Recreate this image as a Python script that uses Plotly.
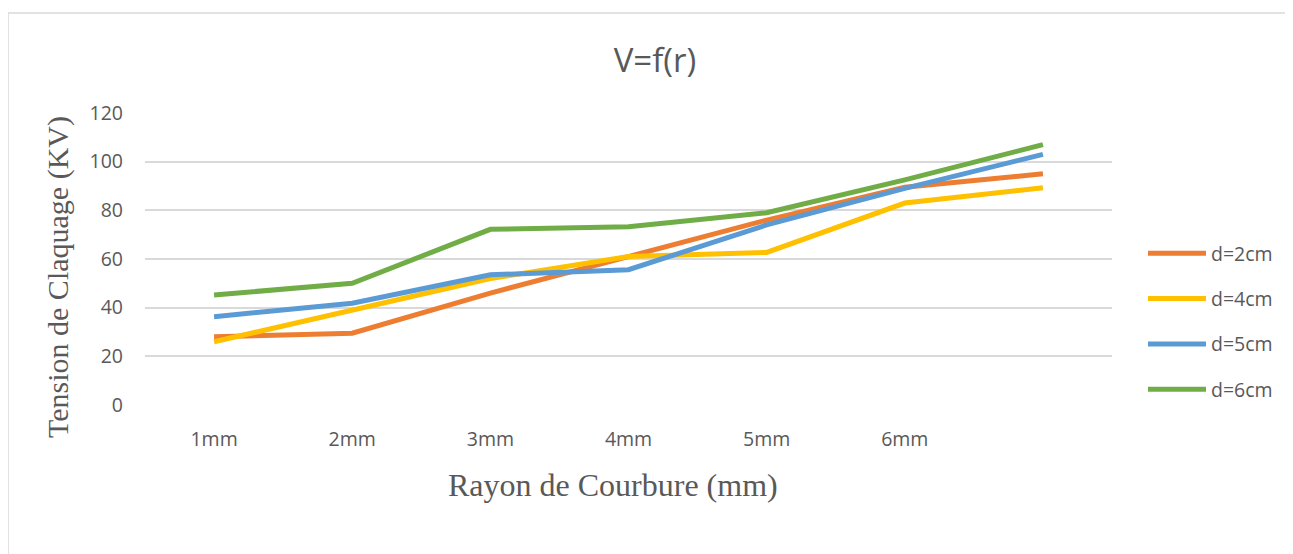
import plotly.graph_objects as go

# ---- data ----
x_pos = [1, 2, 3, 4, 5, 6, 7]
tick_vals = [1, 2, 3, 4, 5, 6]
tick_text = ["1mm", "2mm", "3mm", "4mm", "5mm", "6mm"]

series_names = ["d=2cm", "d=4cm", "d=5cm", "d=6cm"]
d2 = [28, 29.5, 46, 61, 76, 89.5, 95]
d4 = [26, 39, 52, 61, 62.7, 83, 89.3]
d5 = [36.3, 41.8, 53.5, 55.6, 74, 89, 103]
d6 = [45.2, 50, 72.2, 73.3, 79, 92.5, 107]
colors = ["#ED7D31", "#FFC000", "#5B9BD5", "#70AD47"]

fig = go.Figure()
for i, (name, ys) in enumerate(zip(series_names, [d2, d4, d5, d6])):
    fig.add_trace(go.Scatter(
        x=x_pos, y=ys, mode="lines", name=name,
        line=dict(color=colors[i], width=5),
        legendgroup=name,
    ))

# page offset (body margin) of 8px
OFF = 8
SW, SH = 1293, 554
W, H = SW - OFF, SH - OFF
L, T = 145 - OFF, 113 - OFF
R, B = SW - 1112, SH - 405
pw, ph = W - L - R, H - T - B

def px_x(p):  # screen px -> paper
    return (p - OFF - L) / pw

def px_y(p):
    return (T + ph - (p - OFF)) / ph

fig.update_layout(
    width=W, height=H,
    margin=dict(l=L, r=R, t=T, b=B),
    paper_bgcolor="white", plot_bgcolor="white",
    font=dict(family="Open Sans", color="#595959", size=19),
    title=dict(text="V=f(r)", x=(655 - OFF) / W, xanchor="center", xref="container",
               y=1 - (60 - OFF) / H, yanchor="middle", yref="container",
               font=dict(size=33, color="#595959", family="Open Sans")),
    showlegend=True,
    legend=dict(x=px_x(1143), xanchor="left", y=px_y(234), yanchor="top",
                tracegroupgap=17, font=dict(size=19.5, color="#595959"),
                bgcolor="rgba(0,0,0,0)", itemwidth=58),
    xaxis=dict(range=[0.5, 7.5], tickmode="array", tickvals=tick_vals, ticktext=tick_text,
               showgrid=False, zeroline=False, showline=False, ticks="",
               ticklabelstandoff=20, tickfont=dict(size=19.5, color="#595959")),
    yaxis=dict(range=[0, 120], dtick=20, showgrid=True, gridcolor="#D9D9D9", gridwidth=1.5,
               zeroline=False, showline=False, ticks="",
               ticklabelstandoff=21, tickfont=dict(size=19.5, color="#595959")),
)

# axis titles
fig.add_annotation(text="Tension de Claquage (KV)", textangle=-90,
                   xref="paper", yref="paper", x=px_x(58), y=px_y(277),
                   xanchor="center", yanchor="middle", showarrow=False,
                   font=dict(family="Liberation Serif", size=30, color="#595959"))
fig.add_annotation(text="Rayon de Courbure (mm)",
                   xref="paper", yref="paper", x=px_x(613), y=px_y(485),
                   xanchor="center", yanchor="middle", showarrow=False,
                   font=dict(family="Liberation Serif", size=32, color="#595959"))

# chart border
fig.add_shape(type="rect", xref="paper", yref="paper",
              x0=px_x(8), x1=px_x(1310), y0=px_y(580), y1=px_y(13),
              line=dict(color="#D9D9D9", width=1.5), layer="below")

fig.write_html("out.html")
